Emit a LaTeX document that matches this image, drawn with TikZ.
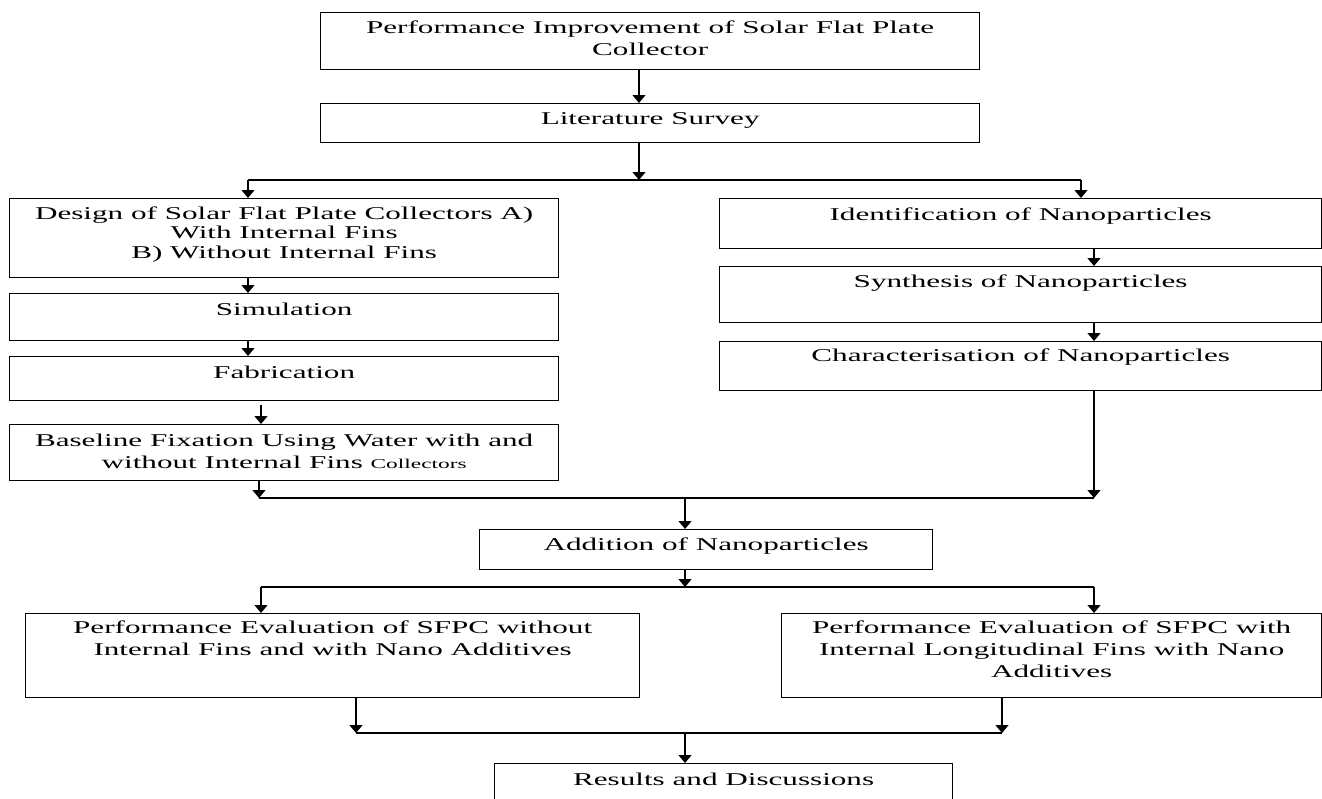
\documentclass[tikz,border=0pt]{standalone}
\usepackage{fontspec}
\setmainfont{Liberation Serif}[FakeStretch=1.73]
\usetikzlibrary{arrows.meta}
\newcommand\mylines[1]{\begin{tabular}[t]{@{}c@{}}#1\end{tabular}}
\newcommand\bx[5]{\node[box, minimum width={(#4-#2)*1pt}, minimum height={(#5-#3)*1pt}] (#1) at (#2,#3) {};}
\tikzset{
  box/.style={draw=black, line width=1.3pt, rectangle, inner sep=0pt, anchor=north west},
  txt/.style={anchor=base, inner sep=0pt, font=\fontsize{18}{22}\selectfont},
  conn/.style={line width=1.3pt, draw=black},
  arr/.style={conn, -{Triangle[width=13pt,length=8pt]}},
}
\begin{document}
\begin{tikzpicture}[x=1pt,y=-1pt]
\useasboundingbox (0,0) rectangle (1322,798);
\fill[white] (0,0) rectangle (1322,798);
\clip (0,0) rectangle (1322,798);
% boxes
\bx{top}{320}{12}{979}{69}
\bx{lit}{320}{103}{979}{142}
\bx{design}{9}{198}{558}{277}
\bx{sim}{9}{293}{558}{340}
\bx{fab}{9}{356}{558}{400}
\bx{base}{9}{424}{558}{480}
\bx{ident}{719}{198}{1321}{248}
\bx{synth}{719}{266}{1321}{322}
\bx{char}{719}{341}{1321}{390}
\bx{add}{479}{529}{932}{569}
\bx{pel}{25}{613}{639}{697}
\bx{per}{781}{613}{1321}{697}
\bx{res}{494}{763}{952}{806}
% texts
\node[txt] (top-t) at ([yshift=-21pt]top.north) {\mylines{Performance Improvement of Solar Flat Plate\\Collector}};
\node[txt] (lit-t) at ([yshift=-21pt]lit.north) {Literature Survey};
\node[txt, font=\fontsize{18}{19.5}\selectfont] (design-t) at ([yshift=-21pt]design.north) {\mylines{Design of Solar Flat Plate Collectors A)\\With Internal Fins\\B) Without Internal Fins}};
\node[txt] (sim-t) at ([yshift=-22pt]sim.north) {Simulation};
\node[txt] (fab-t) at ([yshift=-22pt]fab.north) {Fabrication};
\node[txt] (base-t) at ([yshift=-22pt]base.north) {\mylines{Baseline Fixation Using Water with and\\without Internal Fins {\fontsize{13.5}{22}\selectfont Collectors}}};
\node[txt] (ident-t) at ([yshift=-22pt]ident.north) {Identification of Nanoparticles};
\node[txt] (synth-t) at ([yshift=-21pt]synth.north) {Synthesis of Nanoparticles};
\node[txt] (char-t) at ([yshift=-20pt]char.north) {Characterisation of Nanoparticles};
\node[txt] (add-t) at ([yshift=-21pt]add.north) {Addition of Nanoparticles};
\node[txt] (pel-t) at ([yshift=-20pt]pel.north) {\mylines{Performance Evaluation of SFPC without\\Internal Fins and with Nano Additives}};
\node[txt] (per-t) at ([yshift=-20pt]per.north) {\mylines{Performance Evaluation of SFPC with\\Internal Longitudinal Fins with Nano\\Additives}};
\node[txt] (res-t) at ([yshift=-22pt]res.north) {Results and Discussions};
% junction coordinates
\coordinate (j0) at (639,180);
\coordinate (jl) at (248,180);
\coordinate (jr) at (1081,180);
\coordinate (xf) at (261,0);
\coordinate (xr) at (1094,0);
\coordinate (k0) at (685,498);
\coordinate (kl) at (259,498);
\coordinate (kr) at (1094,498);
\coordinate (m0) at (685,587);
\coordinate (ml) at (261,587);
\coordinate (mr) at (1094,587);
\coordinate (n0) at (685,733);
\coordinate (nl) at (356,733);
\coordinate (nr) at (1002,733);
% connectors
\draw[arr] (top.south -| j0) -- (lit.north -| j0);
\draw[arr] (lit.south -| j0) -- (j0);
\draw[conn] (jl) -- (jr);
\draw[arr] (jl) -- (jl |- design.north);
\draw[arr] (jr) -- (jr |- ident.north);
\draw[arr] (design.south -| jl) -- (sim.north -| jl);
\draw[arr] (sim.south -| jl) -- (fab.north -| jl);
\draw[arr, shorten <=4pt] (fab.south -| xf) -- (base.north -| xf);
\draw[arr] (ident.south -| xr) -- (synth.north -| xr);
\draw[arr] (synth.south -| xr) -- (char.north -| xr);
\draw[arr] (base.south -| kl) -- (kl);
\draw[arr] (char.south -| kr) -- (kr);
\draw[conn] (kl) -- (kr);
\draw[arr] (k0) -- (k0 |- add.north);
\draw[arr] (add.south -| m0) -- (m0);
\draw[conn] (ml) -- (mr);
\draw[arr] (ml) -- (ml |- pel.north);
\draw[arr] (mr) -- (mr |- per.north);
\draw[arr] (pel.south -| nl) -- (nl);
\draw[arr] (per.south -| nr) -- (nr);
\draw[conn] (nl) -- (nr);
\draw[arr] (n0) -- (n0 |- res.north);
\end{tikzpicture}
\end{document}
